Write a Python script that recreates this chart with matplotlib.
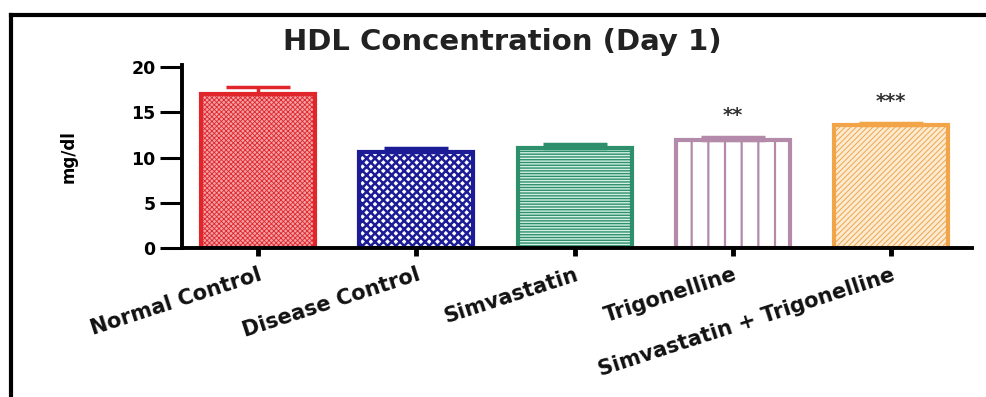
import matplotlib.pyplot as plt
import numpy as np
from matplotlib.lines import Line2D

# Values
groups = ["Normal Control", "Disease Control", "Simvastatin", "Trigonelline",
          "Simvastatin + Trigonelline"]
hdl_mean = [17.0, 10.6, 11.1, 11.9, 13.6]
hdl_sem = [0.8, 0.5, 0.35, 0.35, 0.2]
signif = ["", "", "", "**", "***"]
y_ticks = [0, 5, 10, 15, 20]

edge_colors = ["#e0262b", "#1c1c96", "#2e8f6c", "#b38aa9", "#f2a449"]
face_colors = ["#f0a0a4", "#ffffff", "#d2f0e6", "#ffffff", "#faebd2"]
hatches = ["xxxxxxx", "xxxx", "------", "|", "//////"]
hatch_widths = [0.6, 1.8, 1.0, 1.6, 0.7]

plt.rcParams["font.family"] = ["DejaVu Sans"]
plt.rcParams["font.weight"] = "bold"

fig = plt.figure(figsize=(9.87, 3.97), dpi=100)
# y=0 at 248 px, y=20 at 67 px
ax = fig.add_axes([182 / 987, 1 - 248 / 397, (972 - 182) / 987, 182.8 / 397])

x = np.arange(len(groups))
for i in range(len(groups)):
    bars = ax.bar(x[i], hdl_mean[i], width=0.72, color=face_colors[i],
                  edgecolor=edge_colors[i], hatch=hatches[i], linewidth=3,
                  zorder=2)
    for b in bars:
        if hasattr(b, "set_hatch_linewidth"):
            b.set_hatch_linewidth(hatch_widths[i])
    ax.errorbar(x[i], hdl_mean[i], yerr=[[0], [hdl_sem[i]]], fmt="none",
                ecolor=edge_colors[i], elinewidth=2.5, capsize=23,
                capthick=2.5, zorder=3)
    if signif[i]:
        ax.text(x[i], hdl_mean[i] + hdl_sem[i] + 2.4, signif[i], ha="center",
                va="center", fontsize=14, color="#333333")

ax.set_xlim(-0.48, 4.51)
ax.set_ylim(0, 20.2)
ax.set_yticks(y_ticks)
ax.set_yticklabels([str(t) for t in y_ticks], fontsize=12.5, fontweight="bold")
ax.set_xticks(x)
ax.set_xticklabels(groups, rotation=18, ha="right", rotation_mode="anchor",
                   fontsize=15, fontweight="bold", color="#111111")
ax.set_ylabel("mg/dl", fontsize=12, fontweight="bold")
ax.yaxis.set_label_coords(-0.132, 0.5)

for side in ["top", "right"]:
    ax.spines[side].set_visible(False)
for side in ["left", "bottom"]:
    ax.spines[side].set_linewidth(2.8)
ax.tick_params(axis="y", length=16, width=2.2, pad=3)
ax.tick_params(axis="x", length=6, width=3.5, pad=6)

fig.text(502 / 987, 1 - 42 / 397, "HDL Concentration (Day 1)", ha="center",
         va="center", fontsize=21, fontweight="bold", color="#222222")

# frame lines of the source image
fig.add_artist(Line2D([11 / 987, 1], [1 - 15 / 397, 1 - 15 / 397],
                      transform=fig.transFigure, color="black", linewidth=3))
fig.add_artist(Line2D([11 / 987, 11 / 987], [0, 1 - 15 / 397],
                      transform=fig.transFigure, color="black", linewidth=3))

fig.savefig("out.png", dpi=100)
